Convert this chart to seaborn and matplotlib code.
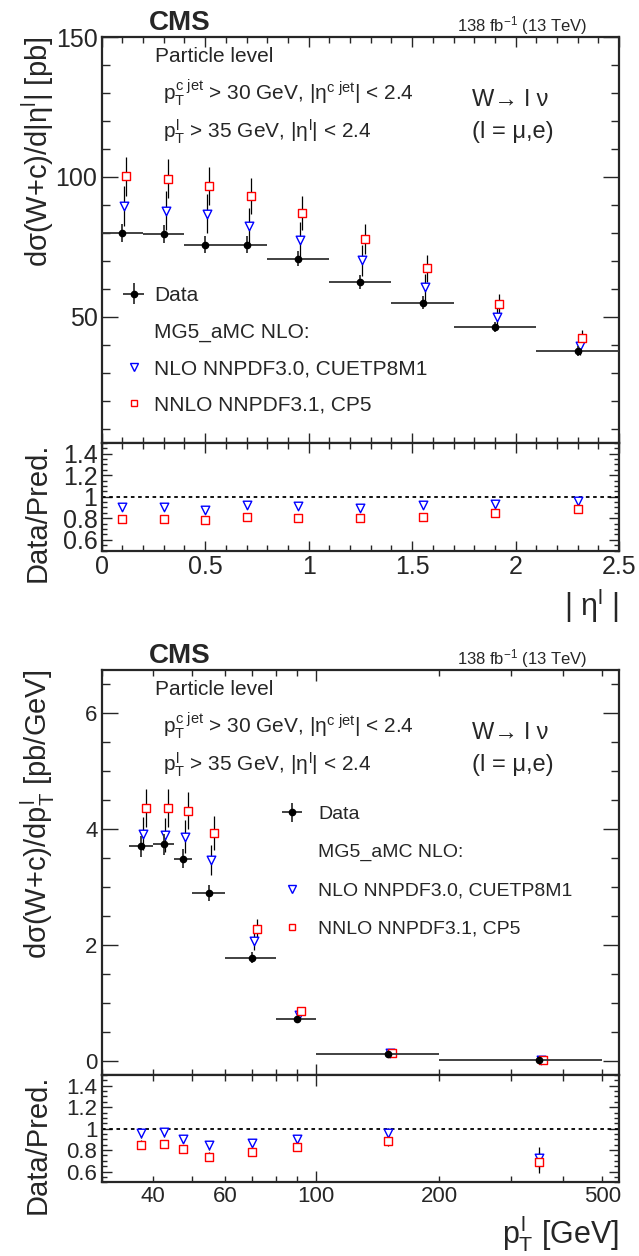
import matplotlib
matplotlib.use("Agg")
import matplotlib.pyplot as plt
import seaborn as sns
import pandas as pd
from matplotlib.lines import Line2D
from matplotlib.ticker import MultipleLocator, FixedLocator, FuncFormatter, NullFormatter

# --- DATA: |eta^l| distribution ---
eta_lo = [0.0, 0.2, 0.4, 0.6, 0.8, 1.1, 1.4, 1.7, 2.1]
eta_hi = [0.2, 0.4, 0.6, 0.8, 1.1, 1.4, 1.7, 2.1, 2.5]
eta_x = [0.1, 0.3, 0.5, 0.7, 0.95, 1.25, 1.55, 1.9, 2.3]
eta_data = [80.0, 79.5, 75.8, 75.8, 70.7, 62.5, 55.1, 46.4, 37.7]
eta_data_err = [3.3, 3.2, 3.0, 3.0, 2.7, 2.4, 2.2, 1.9, 1.7]
eta_nlo = [89.6, 87.9, 86.9, 82.4, 77.6, 70.2, 60.5, 49.8, 39.6]
eta_nlo_err = [7.2, 7.0, 6.9, 6.6, 6.2, 5.6, 4.8, 4.0, 3.2]
eta_nnlo = [100.2, 99.4, 96.7, 93.1, 87.1, 77.7, 67.3, 54.5, 42.4]
eta_nnlo_err = [7.0, 7.0, 6.8, 6.5, 6.1, 5.4, 4.7, 3.8, 3.0]
eta_r_nlo = [0.90, 0.905, 0.875, 0.92, 0.915, 0.895, 0.92, 0.935, 0.96]
eta_r_nnlo = [0.795, 0.795, 0.78, 0.81, 0.805, 0.80, 0.815, 0.85, 0.89]
eta_r_err = [0.03, 0.03, 0.03, 0.03, 0.03, 0.03, 0.03, 0.03, 0.035]

# --- DATA: p_T^l distribution ---
pt_lo = [35, 40, 45, 50, 60, 80, 100, 200]
pt_hi = [40, 45, 50, 60, 80, 100, 200, 500]
pt_x = [37.5, 42.5, 47.5, 55, 70, 90, 150, 350]
pt_data = [3.70, 3.74, 3.49, 2.89, 1.78, 0.71, 0.12, 0.005]
pt_data_err = [0.18, 0.18, 0.16, 0.14, 0.09, 0.04, 0.01, 0.002]
pt_nlo = [3.92, 3.90, 3.87, 3.47, 2.06, 0.79, 0.13, 0.007]
pt_nlo_err = [0.29, 0.29, 0.29, 0.26, 0.15, 0.06, 0.01, 0.001]
pt_nnlo = [4.36, 4.36, 4.32, 3.93, 2.28, 0.86, 0.135, 0.008]
pt_nnlo_err = [0.33, 0.33, 0.32, 0.29, 0.17, 0.06, 0.01, 0.001]
pt_r_nlo = [0.955, 0.965, 0.905, 0.845, 0.87, 0.905, 0.955, 0.725]
pt_r_nnlo = [0.85, 0.855, 0.81, 0.74, 0.785, 0.83, 0.885, 0.685]
pt_r_err = [0.04, 0.04, 0.04, 0.04, 0.03, 0.03, 0.05, 0.10]

LABEL_NLO = "NLO NNPDF3.0, CUETP8M1"
LABEL_NNLO = "NNLO NNPDF3.1, CP5"
# ---------------------

sns.set_style("ticks")
plt.rcParams["font.family"] = ["Liberation Sans", "DejaVu Sans"]
plt.rcParams["mathtext.fontset"] = "custom"
plt.rcParams["mathtext.rm"] = "Liberation Sans"
plt.rcParams["mathtext.it"] = "Liberation Sans"
plt.rcParams["mathtext.bf"] = "Liberation Sans:bold"

fig = plt.figure(figsize=(6.39, 12.56), dpi=100)
L, W = 0.159, 0.810
ax1 = fig.add_axes([L, 0.6475, W, 0.3230])
ax1r = fig.add_axes([L, 0.5616, W, 0.0859], sharex=ax1)
ax2 = fig.add_axes([L, 0.1441, W, 0.3225])
ax2r = fig.add_axes([L, 0.0587, W, 0.0854], sharex=ax2)


def draw_main(ax, x, lo, hi, data, derr, nlo, nlo_err, nnlo, nnlo_err, x_nlo, x_nnlo):
    xerr = [[c - l for c, l in zip(x, lo)], [h - c for c, h in zip(x, hi)]]
    # theory uncertainties (plain black lines, markers drawn on top)
    ax.errorbar(x_nnlo, nnlo, yerr=nnlo_err, fmt="none", ecolor="black", elinewidth=0.9, zorder=2)
    ax.errorbar(x_nlo, nlo, yerr=nlo_err, fmt="none", ecolor="black", elinewidth=0.9, zorder=2)
    df = pd.DataFrame({"x_nlo": x_nlo, "nlo": nlo, "x_nnlo": x_nnlo, "nnlo": nnlo})
    sns.scatterplot(data=df, x="x_nlo", y="nlo", marker="v", s=38, facecolor="white",
                    edgecolor="blue", linewidth=1.0, ax=ax, zorder=3, legend=False)
    sns.scatterplot(data=df, x="x_nnlo", y="nnlo", marker="s", s=30, facecolor="white",
                    edgecolor="red", linewidth=1.0, ax=ax, zorder=3, legend=False)
    h = ax.errorbar(x, data, yerr=derr, xerr=xerr, fmt="o", color="black", ms=4.5,
                    ecolor="#333333", elinewidth=1.3, zorder=4)
    ax.set_xlabel("")
    ax.set_ylabel("")
    return h


def draw_ratio(ax, x, r_nlo, r_nnlo, r_err):
    ax.axhline(1.0, color="black", ls=(0, (2, 2)), lw=1.3, zorder=1)
    ax.errorbar(x, r_nnlo, yerr=r_err, fmt="none", ecolor="black", elinewidth=0.9, zorder=2)
    ax.errorbar(x, r_nlo, yerr=r_err, fmt="none", ecolor="black", elinewidth=0.9, zorder=2)
    df = pd.DataFrame({"x": x, "r_nlo": r_nlo, "r_nnlo": r_nnlo})
    sns.scatterplot(data=df, x="x", y="r_nlo", marker="v", s=38, facecolor="white",
                    edgecolor="blue", linewidth=1.0, ax=ax, zorder=3, legend=False)
    sns.scatterplot(data=df, x="x", y="r_nnlo", marker="s", s=30, facecolor="white",
                    edgecolor="red", linewidth=1.0, ax=ax, zorder=3, legend=False)
    ax.set_ylim(0.5, 1.5)
    ax.yaxis.set_major_locator(FixedLocator([0.6, 0.8, 1.0, 1.2, 1.4]))
    ax.yaxis.set_minor_locator(MultipleLocator(0.05))
    ax.yaxis.set_major_formatter(FuncFormatter(lambda v, p: "%g" % v))
    ax.set_xlabel("")
    ax.set_ylabel("")


def frame(ax, size, ymaj, ymin, xmaj=7, xmin=4):
    for s in ax.spines.values():
        s.set_linewidth(1.6)
        s.set_visible(True)
    ax.tick_params(which="both", direction="in", top=True, right=True, labelsize=size, pad=3)
    ax.tick_params(axis="y", which="major", length=ymaj, width=1.0)
    ax.tick_params(axis="y", which="minor", length=ymin, width=1.0)
    ax.tick_params(axis="x", which="major", length=xmaj, width=1.0)
    ax.tick_params(axis="x", which="minor", length=xmin, width=1.0)


def add_texts(ax, fs_big):
    ax.text(0.103, 0.951, "Particle level", transform=ax.transAxes, fontsize=fs_big, va="center")
    ax.text(0.119, 0.862, r"$p_{T}^{c\ jet}$ > 30 GeV, |$\eta^{c\ jet}$| < 2.4",
            transform=ax.transAxes, fontsize=fs_big, va="center")
    ax.text(0.119, 0.766, r"$p_{T}^{l}$ > 35 GeV, |$\eta^{l}$| < 2.4",
            transform=ax.transAxes, fontsize=fs_big, va="center")
    ax.text(0.716, 0.844, "W→ l ν", transform=ax.transAxes, fontsize=fs_big + 2, va="center")
    ax.text(0.716, 0.766, "(l = μ,e)", transform=ax.transAxes, fontsize=fs_big + 2, va="center")
    ax.text(0.0914, 1.017, "CMS", transform=ax.transAxes, fontsize=20, fontweight="bold",
            va="baseline")
    ax.text(0.938, 1.013, r"138 fb$^{-1}$ (13 TeV)", transform=ax.transAxes, fontsize=12,
            va="baseline", ha="right")


def legend(ax, h_data, fs, anchor, hpad, spacing):
    handles = [
        h_data,
        Line2D([], [], ls="none"),
        Line2D([], [], ls="none", marker="v", mfc="white", mec="blue", ms=6),
        Line2D([], [], ls="none", marker="s", mfc="white", mec="red", ms=5),
    ]
    labels = ["Data", "MG5_aMC NLO:", LABEL_NLO, LABEL_NNLO]
    ax.legend(handles, labels, loc="upper left", bbox_to_anchor=anchor, frameon=False,
              fontsize=fs, handlelength=1.0, handletextpad=hpad, labelspacing=spacing,
              borderpad=0, borderaxespad=0)


# ---------------- top: |eta^l| ----------------
eta_x_nlo = [v + 0.01 for v in eta_x]
eta_x_nnlo = [v + 0.02 for v in eta_x]
h1 = draw_main(ax1, eta_x, eta_lo, eta_hi, eta_data, eta_data_err, eta_nlo, eta_nlo_err,
               eta_nnlo, eta_nnlo_err, eta_x_nlo, eta_x_nnlo)
ax1.set_xlim(0, 2.5)
ax1.set_ylim(5, 150)
ax1.yaxis.set_major_locator(MultipleLocator(50))
ax1.yaxis.set_minor_locator(MultipleLocator(10))
ax1.xaxis.set_major_locator(MultipleLocator(0.5))
ax1.xaxis.set_minor_locator(MultipleLocator(0.1))
frame(ax1, 18, 11.5, 5.8)
ax1.tick_params(labelbottom=False)
ax1.set_ylabel("dσ(W+c)/d|η$^{l}$| [pb]", fontsize=21, ha="right", va="center")
ax1.yaxis.set_label_coords(-0.123, 1.0)
add_texts(ax1, 15)
legend(ax1, h1, 15, (0.042, 0.386), 0.46, 0.835)

draw_ratio(ax1r, eta_x, eta_r_nlo, eta_r_nnlo, eta_r_err)
frame(ax1r, 18, 7, 3.6)
ax1r.set_ylabel("Data/Pred.", fontsize=21, ha="right", va="center")
ax1r.yaxis.set_label_coords(-0.123, 1.0)
ax1r.set_xlabel("| η$^{l}$ |", fontsize=22, ha="right", va="center")
ax1r.xaxis.set_label_coords(1.0, -0.51)
ax1r.xaxis.set_major_formatter(FuncFormatter(lambda v, p: "%g" % v))

# ---------------- bottom: p_T^l ----------------
pt_x_nlo = [v * 1.01 for v in pt_x]
pt_x_nnlo = [v * 1.025 for v in pt_x]
h2 = draw_main(ax2, pt_x, pt_lo, pt_hi, pt_data, pt_data_err, pt_nlo, pt_nlo_err,
               pt_nnlo, pt_nnlo_err, pt_x_nlo, pt_x_nnlo)
ax2.set_xscale("log")
ax2.set_xlim(30, 550)
ax2.set_ylim(-0.25, 6.75)
ax2.yaxis.set_major_locator(MultipleLocator(2))
ax2.yaxis.set_minor_locator(MultipleLocator(0.5))
ax2.xaxis.set_major_locator(FixedLocator([40, 60, 100, 200, 500]))
ax2.xaxis.set_minor_locator(FixedLocator([30, 50, 70, 80, 90, 300, 400]))
ax2.xaxis.set_minor_formatter(NullFormatter())
frame(ax2, 16, 11.5, 5.8, xmaj=4, xmin=4)
ax2.tick_params(labelbottom=False)
ax2.set_ylabel("dσ(W+c)/d$p_{T}^{l}$ [pb/GeV]", fontsize=21, ha="right", va="center")
ax2.yaxis.set_label_coords(-0.123, 1.0)
add_texts(ax2, 15)
legend(ax2, h2, 14, (0.349, 0.665), 0.84, 1.05)

draw_ratio(ax2r, pt_x, pt_r_nlo, pt_r_nnlo, pt_r_err)
frame(ax2r, 16, 7, 3.6, xmaj=4, xmin=4)
ax2r.xaxis.set_major_formatter(FuncFormatter(lambda v, p: "%g" % v))
ax2r.set_ylabel("Data/Pred.", fontsize=21, ha="right", va="center")
ax2r.yaxis.set_label_coords(-0.123, 1.0)
ax2r.set_xlabel("$p_{T}^{l}$ [GeV]", fontsize=22, ha="right", va="center")
ax2r.xaxis.set_label_coords(1.0, -0.48)
for t in ax2.xaxis.get_major_ticks() + ax2r.xaxis.get_major_ticks():
    if abs(t.get_loc() - 100) < 1e-6:
        t.tick1line.set_markersize(8)
        t.tick2line.set_markersize(8)

fig.savefig("out.png", dpi=100)
